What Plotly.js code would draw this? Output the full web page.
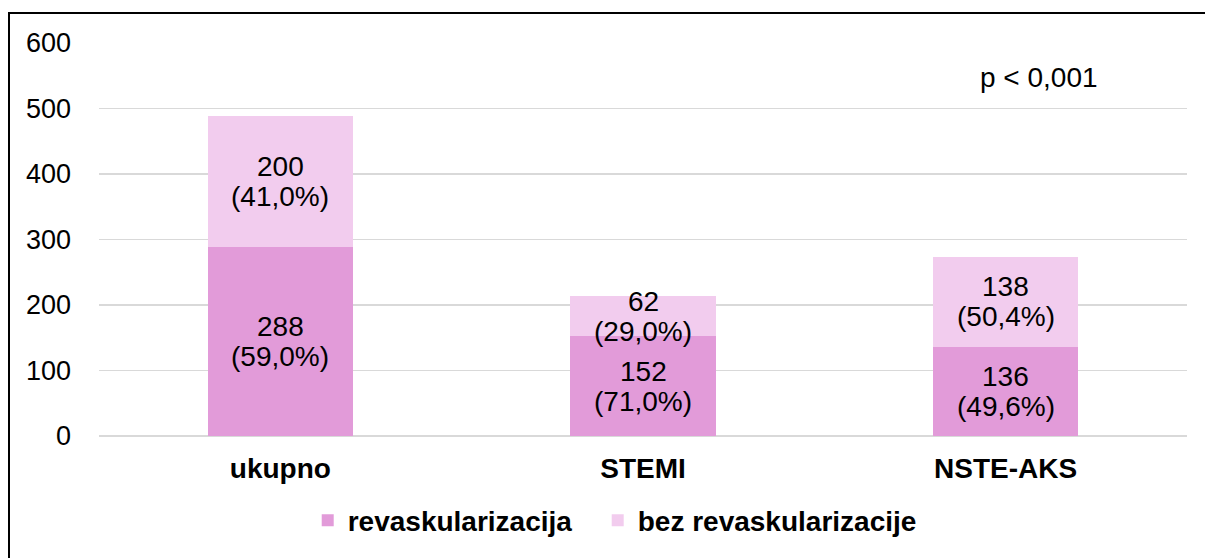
<!DOCTYPE html>
<html><head><meta charset="utf-8">
<script src="https://cdn.plot.ly/plotly-3.0.1.min.js"></script>
<style>
html,body{margin:0;padding:0;background:#fff;}
#chart{width:1205px;height:558px;}
#frame{position:absolute;left:8px;top:12px;width:1300px;height:700px;border:2px solid #000;pointer-events:none;}
</style></head>
<body>
<div id="chart"></div>
<div id="frame"></div>
<script>
const categories = ["ukupno", "STEMI", "NSTE-AKS"];
const revask = [288, 152, 136];
const bezRevask = [200, 62, 138];
const revaskPct = ["59,0%", "71,0%", "49,6%"];
const bezPct = ["41,0%", "29,0%", "50,4%"];
const seriesNames = ["revaskularizacija", "bez revaskularizacije"];
const note = "p < 0,001";

const FONT = "Liberation Sans, Arial, sans-serif";
const FS = 28;
const c1 = "#E29BD9", c2 = "#F2CCEE";
const xs = categories.map(c=>"<b>"+c+"</b>");

const traces = [
  {type:"bar", name:"<b>"+seriesNames[0]+"</b>", x:xs, y:revask, marker:{color:c1}, hoverinfo:"none", legendwidth:245},
  {type:"bar", name:"<b>"+seriesNames[1]+"</b>", x:xs, y:bezRevask, marker:{color:c2}, hoverinfo:"none"}
];

const annotations = [];
function addLabel(x, y, top, bottom){
  const f = {family:FONT,size:FS,color:"#000"};
  annotations.push({x:x, y:y, xref:"x", yref:"y", text:top, showarrow:false, font:f, yshift:15});
  annotations.push({x:x, y:y, xref:"x", yref:"y", text:bottom, showarrow:false, font:f, yshift:-15});
}
categories.forEach((c,i)=>{
  addLabel(xs[i], revask[i]/2, String(revask[i]), "("+revaskPct[i]+")");
  addLabel(xs[i], revask[i]+bezRevask[i]/2, String(bezRevask[i]), "("+bezPct[i]+")");
});
annotations.push({x:0.864, xref:"paper", xanchor:"center", y:547, yref:"y", yanchor:"middle", text:note, showarrow:false, font:{family:FONT,size:FS,color:"#000"}});

const layout = {
  width:1205, height:558,
  margin:{l:99, r:18, t:43, b:120},
  paper_bgcolor:"#fff", plot_bgcolor:"#fff",
  barmode:"stack", bargap:0.6,
  font:{family:FONT, size:FS, color:"#000"},
  showlegend:true,
  legend:{orientation:"h", x:0.474, xanchor:"center", y:-0.215, yanchor:"middle", font:{family:FONT,size:FS,color:"#000"}, traceorder:"normal", itemwidth:30},
  xaxis:{type:"category", showgrid:false, showline:false, ticks:"", tickfont:{family:FONT,size:FS,color:"#000"}, ticklabelstandoff:13},
  yaxis:{range:[0,600], dtick:100, tick0:0, showgrid:true, gridcolor:"#D9D9D9", gridwidth:1.5, zeroline:true, zerolinecolor:"#D9D9D9", zerolinewidth:1.5, ticks:"", tickfont:{family:FONT,size:27,color:"#000"}, ticklabelstandoff:27, showline:false},
  annotations:annotations
};

Plotly.newPlot("chart", traces, layout, {displayModeBar:false, staticPlot:true});
</script>
</body></html>
